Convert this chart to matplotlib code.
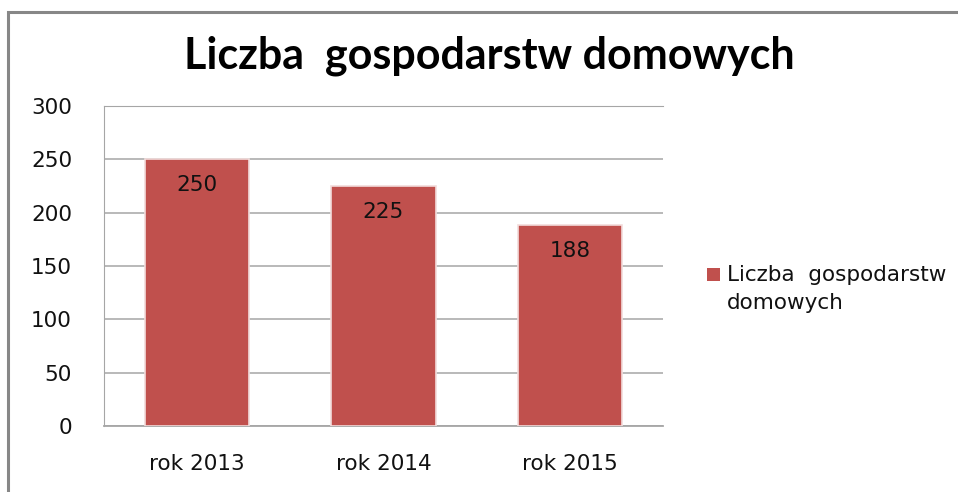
import matplotlib.pyplot as plt
from matplotlib.patches import Rectangle

# data
categories = ['rok 2013', 'rok 2014', 'rok 2015']
values = [250, 225, 188]
series_name = 'Liczba  gospodarstw\ndomowych'
title = 'Liczba  gospodarstw domowych'
yticks = [0, 50, 100, 150, 200, 250, 300]

bar_color = '#C0504D'

fig = plt.figure(figsize=(9.58, 4.92), dpi=100)
W, H = 958, 492

# outer chart frame (runs off the right and bottom of the picture)
fig.patches.append(Rectangle((8 / W, -0.1), 1.2, (H - 11.5) / H + 0.1,
                             transform=fig.transFigure, fill=False,
                             edgecolor='#878787', linewidth=2.2))

ax = fig.add_axes([104 / W, (H - 426) / H, (663 - 104) / W, (426 - 106) / H])

x = range(len(categories))
ax.bar(x, values, width=0.56, color=bar_color,
       edgecolor='#F2DCDB', linewidth=1.2, zorder=3)

for xi, v in zip(x, values):
    ax.text(xi, v - 15, str(v), ha='center', va='top', fontsize=15.5,
            family='DejaVu Sans', color='#111111', zorder=4)

ax.set_xlim(-0.5, 2.5)
ax.set_ylim(0, 300)
ax.set_yticks(yticks)
ax.set_xticks(list(x))
ax.set_xticklabels(categories)
ax.tick_params(axis='both', length=0, labelsize=15.5, colors='#111111')
ax.tick_params(axis='x', pad=20)
ax.tick_params(axis='y', pad=23)
ax.grid(axis='y', color='#A6A6A6', linewidth=1.1, zorder=0)

ax.spines['right'].set_visible(False)
for side in ['top', 'left', 'bottom']:
    ax.spines[side].set_color('#A6A6A6')
ax.spines['bottom'].set_linewidth(1.3)

fig.text(489 / W, 1 - 56 / H, title, ha='center', va='center',
         fontsize=31, fontweight='bold', family='Lato', color='black')

# legend: square marker next to the first line of the series name
fig.patches.append(Rectangle((707 / W, 1 - 281 / H), 13 / W, 13 / H,
                             transform=fig.transFigure, facecolor=bar_color,
                             edgecolor='none'))
fig.text(727 / W, 1 - 265 / H, series_name, ha='left', va='top',
         fontsize=15.5, family='DejaVu Sans', color='#111111', linespacing=1.5)

fig.savefig('out.png', dpi=100)
